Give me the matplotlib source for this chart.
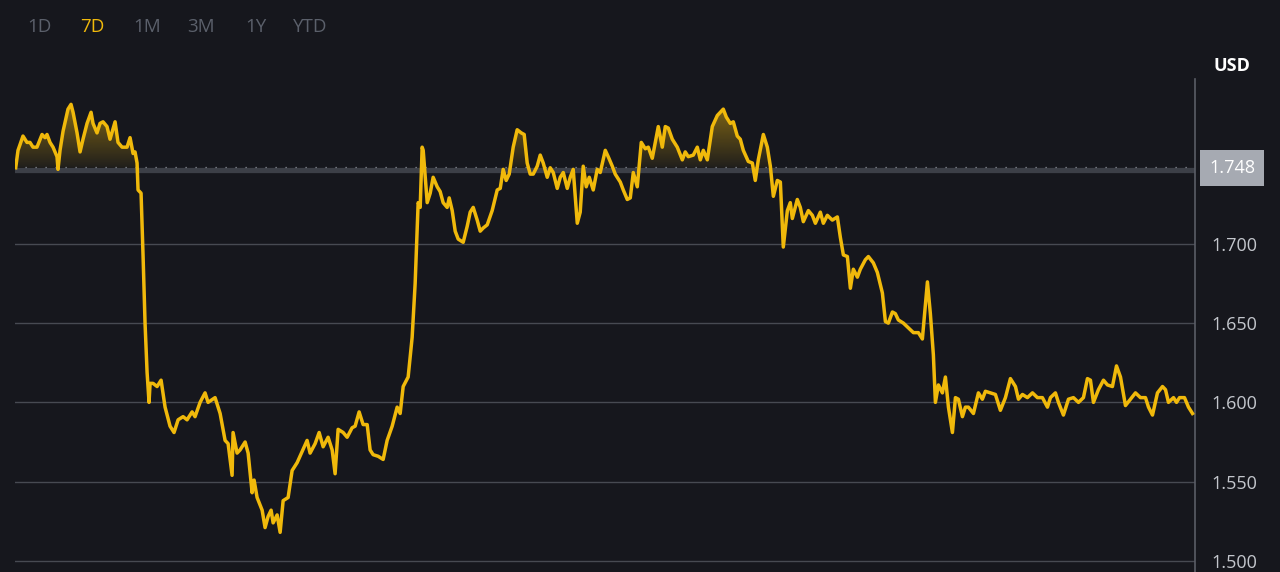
#7 day price chart, dark theme
import numpy as np
import matplotlib.pyplot as plt
from matplotlib.path import Path
import matplotlib.transforms as mtransforms

#data (hours since start, price in USD)
hours = [0.1, 0.43, 1.14, 1.71, 2.14, 2.57, 3.14, 3.86, 4.29, 4.57, 5.0, 5.43, 6.0, 6.14, 6.43, 6.86,
         7.57, 8.0, 8.29, 8.86, 9.29, 9.71, 10.29, 10.86, 11.14, 11.71, 12.14, 12.57, 13.14, 13.57,
         14.29, 14.71, 15.29, 16.0, 16.43, 16.86, 17.14, 17.43, 17.57, 18.0, 18.29, 18.57, 18.86,
         19.14, 19.29, 19.71, 20.29, 20.86, 21.43, 22.14, 22.71, 23.29, 24.0, 24.57, 25.29, 25.71,
         26.43, 27.14, 27.57, 28.57, 29.29, 30.0, 30.43, 31.0, 31.14, 31.71, 32.14, 32.86, 33.29,
         33.86, 34.14, 34.57, 35.29, 35.71, 36.14, 36.57, 36.86, 37.43, 37.86, 38.29, 39.0, 39.57,
         40.29, 41.0, 41.71, 42.14, 42.86, 43.43, 44.0, 44.71, 45.29, 45.71, 46.14, 46.86, 47.43,
         48.14, 48.57, 49.14, 49.71, 50.29, 50.71, 51.14, 51.86, 52.57, 53.14, 53.86, 54.57, 55.0,
         55.43, 56.14, 56.71, 57.14, 57.57, 57.86, 58.14, 58.29, 58.86, 59.29, 59.71, 60.29, 60.71,
         61.14, 61.71, 62.0, 62.43, 62.86, 63.29, 64.0, 64.57, 65.0, 65.43, 66.0, 66.43, 66.86,
         67.43, 68.14, 68.86, 69.29, 69.71, 70.14, 70.57, 71.14, 71.71, 72.29, 72.71, 73.14, 73.57,
         74.0, 74.57, 75.0, 75.43, 76.0, 76.43, 76.86, 77.43, 77.86, 78.29, 78.86, 79.29, 79.71,
         80.29, 80.71, 81.14, 81.57, 82.0, 82.57, 83.14, 83.57, 84.29, 84.71, 85.29, 85.71, 86.43,
         86.86, 87.43, 87.86, 88.29, 88.86, 89.43, 90.0, 90.43, 91.0, 91.43, 91.86, 92.43, 92.86,
         93.29, 93.86, 94.57, 95.29, 95.71, 96.14, 96.86, 97.43, 97.86, 98.29, 98.86, 99.57, 100.29,
         101.14, 101.57, 102.14, 102.57, 103.14, 103.57, 104.0, 104.71, 105.29, 105.71, 106.14,
         106.86, 107.43, 107.86, 108.29, 108.86, 109.29, 109.71, 110.29, 110.71, 111.0, 111.71,
         112.14, 112.57, 113.29, 113.86, 114.29, 115.0, 115.43, 116.0, 116.71, 117.43, 117.86,
         118.29, 118.86, 119.29, 119.71, 120.29, 120.71, 121.43, 121.86, 122.57, 123.14, 123.86,
         124.29, 124.71, 125.29, 125.71, 126.14, 126.86, 127.57, 128.29, 129.0, 129.57, 130.29,
         130.71, 131.14, 131.43, 131.86, 132.43, 132.86, 133.29, 133.86, 134.29, 134.71, 135.29,
         135.71, 136.14, 136.86, 137.57, 138.14, 138.57, 139.29, 140.0, 140.71, 141.43, 142.14,
         142.86, 143.29, 143.86, 144.57, 145.29, 146.0, 146.71, 147.43, 147.86, 148.57, 149.0,
         149.71, 150.43, 151.14, 151.86, 152.57, 153.14, 153.57, 154.0, 154.71, 155.43, 156.0,
         156.71, 157.29, 157.86, 158.57, 159.29, 160.0, 160.71, 161.43, 161.86, 162.43, 163.14,
         163.86, 164.29, 164.71, 165.43, 165.86, 166.29, 167.0, 167.57, 168.14]
price = [1.748, 1.759, 1.768, 1.764, 1.764, 1.761, 1.761, 1.769, 1.767, 1.769, 1.764, 1.761, 1.755, 1.747, 1.759, 1.771,
         1.785, 1.788, 1.783, 1.770, 1.758, 1.766, 1.776, 1.783, 1.776, 1.770, 1.776, 1.777, 1.774, 1.766,
         1.777, 1.764, 1.761, 1.761, 1.767, 1.757, 1.758, 1.751, 1.734, 1.732, 1.692, 1.650, 1.619,
         1.600, 1.612, 1.612, 1.610, 1.614, 1.597, 1.585, 1.581, 1.589, 1.591, 1.589, 1.594, 1.591,
         1.600, 1.606, 1.600, 1.603, 1.593, 1.576, 1.574, 1.554, 1.581, 1.568, 1.570, 1.575, 1.568,
         1.543, 1.551, 1.540, 1.532, 1.521, 1.528, 1.532, 1.524, 1.529, 1.518, 1.538, 1.540, 1.557,
         1.562, 1.569, 1.576, 1.568, 1.574, 1.581, 1.572, 1.578, 1.570, 1.555, 1.583, 1.581, 1.578,
         1.584, 1.585, 1.594, 1.586, 1.586, 1.570, 1.567, 1.566, 1.564, 1.576, 1.585, 1.597, 1.593,
         1.610, 1.616, 1.641, 1.675, 1.726, 1.723, 1.761, 1.759, 1.726, 1.732, 1.742, 1.736, 1.733,
         1.726, 1.723, 1.729, 1.721, 1.708, 1.703, 1.701, 1.711, 1.720, 1.723, 1.715, 1.708, 1.710,
         1.712, 1.721, 1.734, 1.735, 1.747, 1.740, 1.744, 1.761, 1.772, 1.770, 1.769, 1.751, 1.744,
         1.744, 1.749, 1.756, 1.751, 1.742, 1.748, 1.745, 1.735, 1.742, 1.745, 1.735, 1.742, 1.747,
         1.713, 1.720, 1.749, 1.736, 1.742, 1.734, 1.747, 1.745, 1.759, 1.755, 1.749, 1.744, 1.739,
         1.734, 1.728, 1.729, 1.745, 1.736, 1.764, 1.760, 1.761, 1.754, 1.764, 1.774, 1.761, 1.774,
         1.773, 1.766, 1.761, 1.753, 1.758, 1.755, 1.756, 1.761, 1.753, 1.759, 1.753, 1.774, 1.781,
         1.785, 1.780, 1.776, 1.777, 1.768, 1.766, 1.759, 1.752, 1.751, 1.740, 1.753,
         1.769, 1.761, 1.749, 1.730, 1.740, 1.739, 1.698, 1.721, 1.726, 1.716, 1.728,
         1.723, 1.714, 1.721, 1.718, 1.713, 1.720, 1.713, 1.718, 1.715, 1.717, 1.704,
         1.693, 1.692, 1.672, 1.684, 1.679, 1.684, 1.690, 1.692, 1.688, 1.682, 1.669,
         1.651, 1.650, 1.657, 1.656, 1.652, 1.650, 1.647, 1.644, 1.644, 1.640, 1.676,
         1.656, 1.630, 1.600, 1.611, 1.606, 1.616, 1.597, 1.581, 1.603, 1.602, 1.591,
         1.597, 1.597, 1.593, 1.606, 1.602, 1.607, 1.606, 1.605, 1.595, 1.603, 1.615,
         1.610, 1.602, 1.605, 1.603, 1.606, 1.603, 1.603, 1.597, 1.603, 1.606, 1.600,
         1.592, 1.602, 1.603, 1.600, 1.603, 1.615, 1.614, 1.600, 1.608, 1.614, 1.611,
         1.610, 1.623, 1.616, 1.598, 1.602, 1.606, 1.603, 1.603, 1.597, 1.592, 1.606,
         1.610, 1.608, 1.600, 1.603, 1.600, 1.603, 1.603, 1.597, 1.593]

open_price = 1.748
last_label = '1.748'
yticks = [1.500, 1.550, 1.600, 1.650, 1.700]
tabs = ['1D', '7D', '1M', '3M', '1Y', 'YTD']
active_tab = '7D'

bg = '#16171d'
yellow = '#f0b90b'
plt.rcParams['font.family'] = ['Open Sans', 'DejaVu Sans']

t = np.array(hours)
p = np.array(price)

fig = plt.figure(figsize=(12.8, 5.72), dpi=100, facecolor=bg)
ax = fig.add_axes([15/1280, 0, 1180/1280, 493/572])
ax.set_facecolor(bg)
ax.set_xlim(0, 168.5)
ax.set_ylim(1.493, 1.804)

#horizontal grid
for v in yticks:
    ax.axhline(v, color='#474a52', lw=1, zorder=0)

#current price band
ax.axhline(open_price - 0.0012, color='#3c3f47', lw=3.8, zorder=1)

#area above the open price, gradient fill
under = ax.fill_between(t, p, open_price, where=p >= open_price, interpolate=True,
                        facecolor=bg, edgecolor='none', zorder=2)
grad = np.linspace(0.05, 0.5, 100).reshape(-1, 1)
rgba = np.zeros((100, 1, 4))
rgba[..., 0] = 240/255
rgba[..., 1] = 185/255
rgba[..., 2] = 11/255
rgba[..., 3] = grad
im = ax.imshow(rgba, extent=[0, 168.5, open_price, p.max()], origin='lower',
               aspect='auto', zorder=3, interpolation='bilinear')
clip = Path.make_compound_path(*under.get_paths())
im.set_clip_path(clip, ax.transData)

#dotted open line
ax.axhline(open_price + 0.0008, color='#8d919a', lw=0.9, dashes=[1, 7], zorder=4)

ax.plot(t, p, color=yellow, lw=2.5, zorder=5, solid_joinstyle='round')

#right axis
for s in ['top', 'left', 'bottom']:
    ax.spines[s].set_visible(False)
ax.spines['right'].set_color('#5a5d66')
ax.spines['right'].set_linewidth(1.2)
ax.set_xticks([])
ax.yaxis.tick_right()
ax.set_yticks(yticks)
ax.set_yticklabels(['%.3f' % v for v in yticks])
ax.tick_params(axis='y', length=0, pad=12, labelsize=13, labelcolor='#c3c6cc')

trans = mtransforms.blended_transform_factory(ax.transAxes, ax.transData)
ax.text(1.012, open_price, last_label, transform=trans, ha='left', va='center',
        fontsize=13, color='white', zorder=6,
        bbox=dict(boxstyle='square,pad=0.5', facecolor='#a6aab2', edgecolor='none'))

fig.text(1232/1280, 1 - 66/572, 'USD', ha='center', va='center', fontsize=13,
         fontweight='bold', color='white')

tab_x = [39, 92, 147, 201, 256, 310]
for name, x in zip(tabs, tab_x):
    c = yellow if name == active_tab else '#5b606b'
    fig.text(x/1280, 1 - 27/572, name, ha='center', va='center', fontsize=13.5, color=c)

fig.savefig('out.png', facecolor=bg)
